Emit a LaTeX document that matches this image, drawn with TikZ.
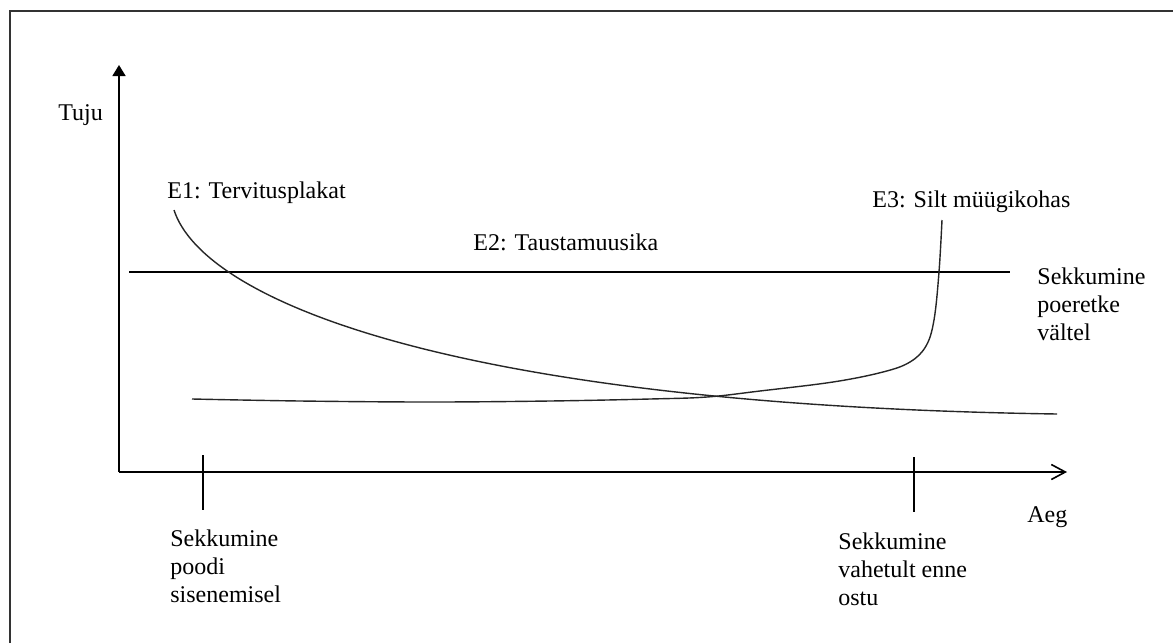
\documentclass[tikz,border=0pt]{standalone}
\usepackage{fontspec}
\setmainfont{Liberation Serif}
\usetikzlibrary{arrows.meta}
\begin{document}
\begin{tikzpicture}[x=0.5pt,y=-0.5pt,
  lbl/.style={inner sep=0pt,font=\fontsize{12}{14}\selectfont,text=black},
  mlbl/.style={lbl,align=left,anchor=north west},
  axisline/.style={line width=0.8pt,black},
  curveline/.style={line width=0.7pt,black!85},
  frameline/.style={line width=1pt,black!80}]
\useasboundingbox (0,0) rectangle (1173,643);
% frame (left and top edges)
\draw[frameline] (10,643) -- (10,11) -- (1173,11);
% axes
\coordinate (O) at (119,472);
\coordinate (ytop) at (119,65);
\coordinate (xend) at (1067,472);
\draw[axisline,-{Triangle[width=6.5pt,length=5.5pt]}] (O) -- (ytop);
\draw[axisline,-{Straight Barb[width=7.5pt,length=7pt]}] (O) -- (xend);
% ticks
\coordinate (t1a) at (203,455); \coordinate (t1b) at (203,510);
\coordinate (t2a) at (914,457); \coordinate (t2b) at (914,512);
\draw[axisline] (t1a) -- (t1b);
\draw[axisline] (t2a) -- (t2b);
% E2 horizontal line
\coordinate (h1) at (129,272); \coordinate (h2) at (1010,272);
\draw[axisline] (h1) -- (h2);
% E1 curve
\coordinate (e1s) at (174,210); \coordinate (e1e) at (1057,414);
\draw[curveline] (e1s) .. controls (203,300) and (450,405) .. (e1e);
% E3 curve
\draw[curveline] plot[smooth,tension=0.6] coordinates {(192,399) (300,401) (430,402) (550,401) (650,399) (707,397) (760,391) (833,382) (883,372) (910,362) (926,346) (934,320) (939,272) (942,220)};
% labels
\node[lbl,anchor=base west] (tuju) at (58,120) {Tuju};
\node[lbl,anchor=base west] (e1) at (167,198) {E1: Tervitusplakat};
\node[lbl,anchor=base west] (e2) at (473,250) {E2: Taustamuusika};
\node[lbl,anchor=base west] (e3) at (872,207) {E3: Silt müügikohas};
\node[mlbl] (sekp) at (1037,267) {Sekkumine\\poeretke\\vältel};
\node[lbl,anchor=base west] (aeg) at (1027,522) {Aeg};
\node[mlbl] (seks) at (170,529) {Sekkumine\\poodi\\sisenemisel};
\node[mlbl] (seko) at (838,532) {Sekkumine\\vahetult enne\\ostu};
\end{tikzpicture}
\end{document}
